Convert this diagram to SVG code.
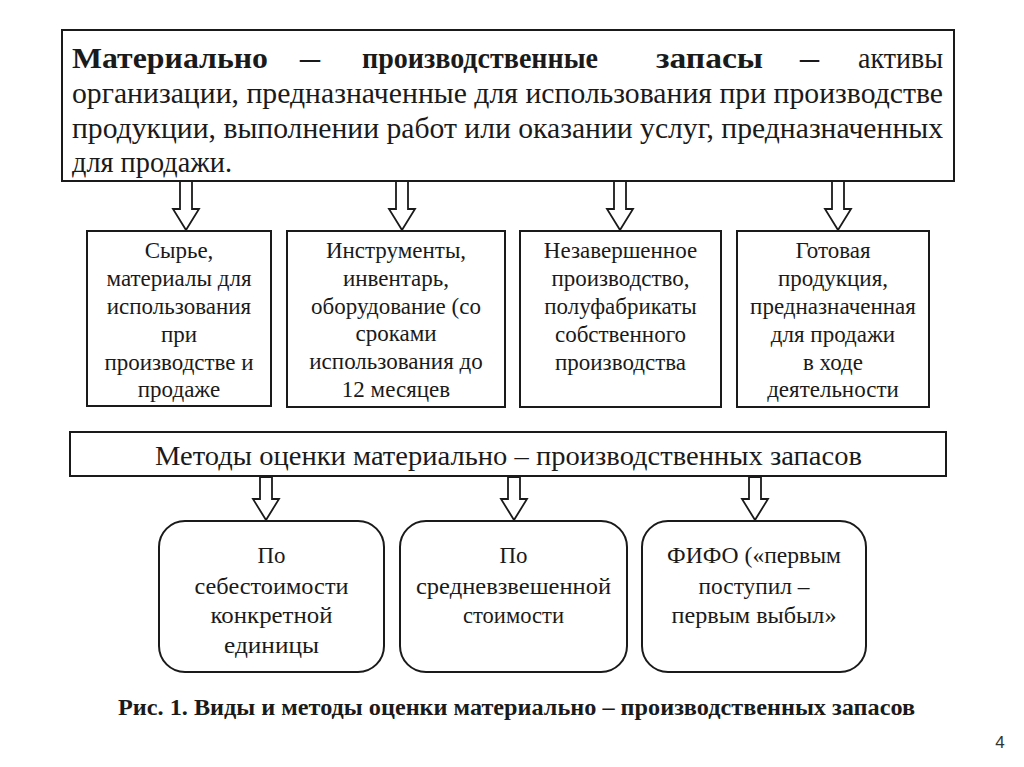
<svg xmlns="http://www.w3.org/2000/svg" width="1024" height="767" viewBox="0 0 1024 767">
<style>
.box{fill:#fff;stroke:#1a1a1a;stroke-width:2}
.arr{fill:#fff;stroke:#1a1a1a;stroke-width:1.8;stroke-linejoin:miter}
.t{font-family:"Liberation Serif","Times New Roman",serif;fill:#1a1a1a}
.c{text-anchor:middle}
.s19{font-size:23px}
.s26{font-size:29px}
.s22{font-size:27px}
.s20{font-size:23px}
.b{font-weight:bold}
</style>
<rect width="1024" height="767" fill="#fff"/>
<g id="definition">
<rect class="box" x="62" y="30" width="892" height="151"/>
<text class="t s26 b" x="72" y="68" textLength="196" lengthAdjust="spacingAndGlyphs">Материально</text>
<text class="t s26 b" x="300" y="68" textLength="20" lengthAdjust="spacingAndGlyphs">–</text>
<text class="t s26 b" x="362" y="68" textLength="236" lengthAdjust="spacingAndGlyphs">производственные</text>
<text class="t s26 b" x="656" y="68" textLength="107" lengthAdjust="spacingAndGlyphs">запасы</text>
<text class="t s26 b" x="800" y="68" textLength="19" lengthAdjust="spacingAndGlyphs">–</text>
<text class="t s26" x="858" y="68" textLength="85" lengthAdjust="spacingAndGlyphs">активы</text>
<text class="t s26" x="72" y="103" textLength="871" lengthAdjust="spacingAndGlyphs">организации, предназначенные для использования при производстве</text>
<text class="t s26" x="72" y="138" textLength="871" lengthAdjust="spacingAndGlyphs">продукции, выполнении работ или оказании услуг, предназначенных</text>
<text class="t s26" x="72" y="172" textLength="160" lengthAdjust="spacingAndGlyphs">для продажи.</text>
</g>
<g id="connectors">
<path class="arr" d="M180,181 V209 H173 L186,230 L199,209 H192 V181 Z"/>
<path class="arr" d="M396,181 V209 H389 L402,230 L415,209 H408 V181 Z"/>
<path class="arr" d="M614,181 V209 H607 L620,230 L633,209 H626 V181 Z"/>
<path class="arr" d="M832,181 V209 H825 L838,230 L851,209 H844 V181 Z"/>
<path class="arr" d="M260,477 V499 H253 L266,520 L279,499 H272 V477 Z"/>
<path class="arr" d="M508,477 V499 H501 L514,520 L527,499 H520 V477 Z"/>
<path class="arr" d="M749,477 V499 H742 L755,520 L768,499 H761 V477 Z"/>
</g>
<g id="raw-materials">
<rect class="box" x="87" y="231" width="184" height="175"/>
<text class="t s19 c" x="179" y="258">Сырье,</text>
<text class="t s19 c" x="179" y="286">материалы для</text>
<text class="t s19 c" x="179" y="314">использования</text>
<text class="t s19 c" x="179" y="342">при</text>
<text class="t s19 c" x="179" y="370">производстве и</text>
<text class="t s19 c" x="179" y="397">продаже</text>
</g>
<g id="tools">
<rect class="box" x="287" y="231" width="218" height="176"/>
<text class="t s19 c" x="396" y="258">Инструменты,</text>
<text class="t s19 c" x="396" y="286">инвентарь,</text>
<text class="t s19 c" x="396" y="314">оборудование (со</text>
<text class="t s19 c" x="396" y="341">сроками</text>
<text class="t s19 c" x="396" y="369">использования до</text>
<text class="t s19 c" x="396" y="397">12 месяцев</text>
</g>
<g id="wip">
<rect class="box" x="520" y="231" width="201" height="176"/>
<text class="t s19 c" x="620.5" y="258">Незавершенное</text>
<text class="t s19 c" x="620.5" y="286">производство,</text>
<text class="t s19 c" x="620.5" y="314">полуфабрикаты</text>
<text class="t s19 c" x="620.5" y="342">собственного</text>
<text class="t s19 c" x="620.5" y="370">производства</text>
</g>
<g id="finished-goods">
<rect class="box" x="737" y="231" width="192" height="176"/>
<text class="t s19 c" x="833" y="258">Готовая</text>
<text class="t s19 c" x="833" y="286">продукция,</text>
<text class="t s19 c" x="833" y="314">предназначенная</text>
<text class="t s19 c" x="833" y="342">для продажи</text>
<text class="t s19 c" x="833" y="370">в ходе</text>
<text class="t s19 c" x="833" y="397">деятельности</text>
</g>
<g id="methods">
<rect class="box" x="70" y="432" width="876" height="44"/>
<text class="t s22 c" x="508.5" y="465" textLength="707" lengthAdjust="spacingAndGlyphs">Методы оценки материально – производственных запасов</text>
</g>
<g id="method-cost">
<rect class="box" x="159" y="521" width="225" height="151" rx="26"/>
<text class="t s20 c" x="271.5" y="563" textLength="28" lengthAdjust="spacingAndGlyphs">По</text>
<text class="t s20 c" x="271.5" y="594" textLength="154" lengthAdjust="spacingAndGlyphs">себестоимости</text>
<text class="t s20 c" x="271.5" y="623" textLength="122" lengthAdjust="spacingAndGlyphs">конкретной</text>
<text class="t s20 c" x="271.5" y="653" textLength="95" lengthAdjust="spacingAndGlyphs">единицы</text>
</g>
<g id="method-average">
<rect class="box" x="400" y="521" width="227" height="151" rx="26"/>
<text class="t s20 c" x="513.5" y="563" textLength="28" lengthAdjust="spacingAndGlyphs">По</text>
<text class="t s20 c" x="513.5" y="594" textLength="195" lengthAdjust="spacingAndGlyphs">средневзвешенной</text>
<text class="t s20 c" x="513.5" y="623" textLength="101" lengthAdjust="spacingAndGlyphs">стоимости</text>
</g>
<g id="method-fifo">
<rect class="box" x="642" y="521" width="224" height="151" rx="26"/>
<text class="t s20 c" x="754" y="563" textLength="174" lengthAdjust="spacingAndGlyphs">ФИФО («первым</text>
<text class="t s20 c" x="754" y="594" textLength="111" lengthAdjust="spacingAndGlyphs">поступил –</text>
<text class="t s20 c" x="754" y="623" textLength="165" lengthAdjust="spacingAndGlyphs">первым выбыл»</text>
</g>
<text class="t b" x="118" y="715" font-size="24" textLength="797" lengthAdjust="spacingAndGlyphs">Рис. 1. Виды и методы оценки материально – производственных запасов</text>
<text x="1000" y="748" font-family="Liberation Sans, Arial, sans-serif" font-size="17" fill="#333" text-anchor="middle">4</text>
</svg>
